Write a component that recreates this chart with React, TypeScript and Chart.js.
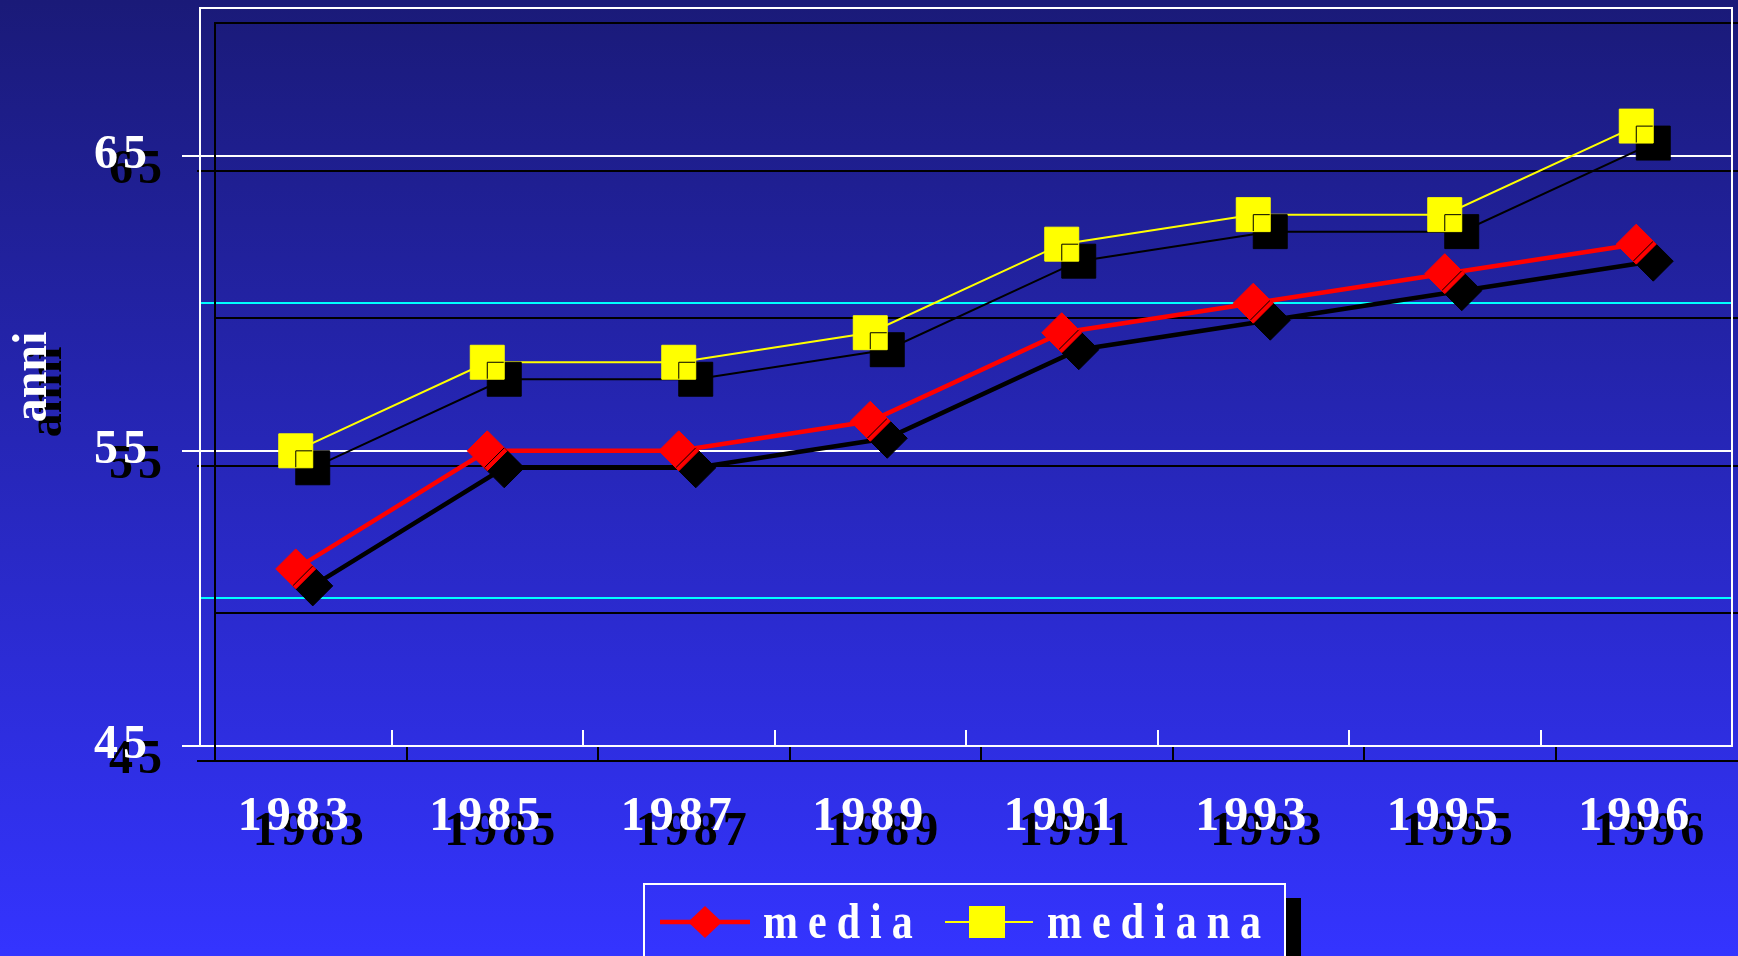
import React, { useEffect, useRef } from 'react';
import { Chart, registerables } from 'chart.js';

Chart.register(...registerables);

// ---- data ----
const years = ['1983', '1985', '1987', '1989', '1991', '1993', '1995', '1996'];
const media = [51, 55, 55, 56, 59, 60, 61, 62];
const mediana = [55, 58, 58, 59, 62, 63, 63, 66];
const yTickLabels = [45, 55, 65];
const yMin = 45;
const yMax = 70;
const yTitle = 'anni';
const legendLabels = ['media', 'mediana'];

// ---- style ----
const W = 1738;
const H = 956;
const SHADOW = 15;
const SERIF = '"Liberation Serif", "Times New Roman", serif';
const RED = '#ff0000';
const YELLOW = '#ffff00';
const CYAN = '#00ffff';
const WHITE = '#ffffff';
const TRANSPARENT = 'rgba(0,0,0,0)';

function makeGradient(ctx: CanvasRenderingContext2D, h: number) {
  const g = ctx.createLinearGradient(0, 0, 0, h);
  g.addColorStop(0, '#1a1a78');
  g.addColorStop(1, '#3434ff');
  return g;
}

const decoPlugin = {
  id: 'decoPlugin',
  beforeDraw(chart: any) {
    const ctx: any = chart.ctx;
    ctx.save();
    ctx.fillStyle = makeGradient(ctx, chart.height);
    ctx.fillRect(0, 0, chart.width, chart.height);
    ctx.shadowColor = '#000000';
    ctx.shadowBlur = 0;
    ctx.shadowOffsetX = SHADOW;
    ctx.shadowOffsetY = SHADOW;
    ctx.letterSpacing = '5px';
    const ys: any = chart.scales.y;
    if (ys && !ys._patchedTitle) {
      const orig = ys.drawTitle.bind(ys);
      ys.drawTitle = () => {
        const c: any = chart.ctx;
        const prev = c.letterSpacing;
        c.letterSpacing = '0px';
        orig();
        c.letterSpacing = prev;
      };
      ys._patchedTitle = true;
    }
  },
  beforeDatasetsDraw(chart: any) {
    chart.ctx.shadowOffsetX = 17;
    chart.ctx.shadowOffsetY = 17;
  },
  afterDatasetsDraw(chart: any) {
    chart.ctx.shadowOffsetX = SHADOW;
    chart.ctx.shadowOffsetY = SHADOW;
  },
  afterDraw(chart: any) {
    const ctx: any = chart.ctx;
    ctx.restore();
    // legend
    const bx = 643;
    const by = 883;
    const bw = 643;
    const bh = 140;
    ctx.save();
    ctx.fillStyle = '#000000';
    ctx.fillRect(bx + SHADOW, by + SHADOW, bw, bh);
    ctx.fillStyle = makeGradient(ctx, chart.height);
    ctx.fillRect(bx, by, bw, bh);
    ctx.strokeStyle = WHITE;
    ctx.lineWidth = 2;
    ctx.strokeRect(bx + 1, by + 1, bw - 2, bh);

    const ds = chart.data.datasets;
    const cy = 922;
    // media sample
    ctx.strokeStyle = ds[0].borderColor;
    ctx.lineWidth = 4.5;
    ctx.beginPath();
    ctx.moveTo(660, cy);
    ctx.lineTo(750, cy);
    ctx.stroke();
    ctx.fillStyle = ds[0].backgroundColor;
    ctx.beginPath();
    ctx.moveTo(705, cy - 16);
    ctx.lineTo(722, cy);
    ctx.lineTo(705, cy + 16);
    ctx.lineTo(688, cy);
    ctx.closePath();
    ctx.fill();
    // mediana sample
    ctx.strokeStyle = ds[1].borderColor;
    ctx.lineWidth = 2;
    ctx.beginPath();
    ctx.moveTo(945, cy);
    ctx.lineTo(1033, cy);
    ctx.stroke();
    ctx.fillStyle = ds[1].backgroundColor;
    ctx.fillRect(969, 906, 36, 32);

    ctx.fillStyle = WHITE;
    ctx.letterSpacing = '10px';
    ctx.font = `bold 42px ${SERIF}`;
    ctx.textBaseline = 'alphabetic';
    ctx.textAlign = 'left';
    const texts = [
      { t: legendLabels[0], x: 763 },
      { t: legendLabels[1], x: 1047 },
    ];
    for (const it of texts) {
      ctx.save();
      ctx.translate(it.x, 938);
      ctx.scale(1, 1.2);
      ctx.fillText(it.t, 0, 0);
      ctx.restore();
    }
    ctx.restore();
  },
};

export default function App() {
  const ref = useRef<HTMLCanvasElement>(null);

  useEffect(() => {
    const canvas = ref.current;
    if (!canvas) return;
    const tickFont = { family: SERIF, size: 48, weight: 'bold' as const };
    const chart = new Chart(canvas, {
      type: 'line',
      data: {
        labels: years,
        datasets: [
          {
            label: legendLabels[0],
            data: media,
            borderColor: RED,
            backgroundColor: RED,
            borderWidth: 4.5,
            pointStyle: 'rectRot',
            pointRadius: 20,
            pointBackgroundColor: RED,
            pointBorderColor: RED,
            pointBorderWidth: 1,
            tension: 0,
            clip: false as any,
          },
          {
            label: legendLabels[1],
            data: mediana,
            borderColor: YELLOW,
            backgroundColor: YELLOW,
            borderWidth: 2,
            pointStyle: 'rect',
            pointRadius: 24,
            pointBackgroundColor: YELLOW,
            pointBorderColor: YELLOW,
            pointBorderWidth: 1,
            tension: 0,
            clip: false as any,
          },
        ],
      },
      options: {
        responsive: false,
        animation: false,
        devicePixelRatio: 1,
        events: [],
        layout: { autoPadding: false, padding: { top: 8, left: 0, right: 0, bottom: 0 } },
        plugins: {
          legend: { display: false },
          tooltip: { enabled: false },
        },
        scales: {
          x: {
            type: 'category',
            offset: true,
            grid: {
              offset: true,
              drawOnChartArea: false,
              color: WHITE,
              lineWidth: 2,
              tickLength: -16,
              tickWidth: 2,
            },
            border: { color: WHITE, width: 2 },
            ticks: {
              color: WHITE,
              font: tickFont,
              padding: 59,
              maxRotation: 0,
              autoSkip: false,
            },
            afterFit: (s: any) => {
              s.height = 210;
              s.paddingLeft = 0;
              s.paddingRight = 0;
            },
          },
          y: {
            min: yMin,
            max: yMax,
            ticks: {
              stepSize: 5,
              color: WHITE,
              font: tickFont,
              padding: 30,
              callback: (v: any) => (yTickLabels.includes(Number(v)) ? String(v) : ''),
            },
            grid: {
              color: (c: any) => {
                const v = c.tick ? c.tick.value : 0;
                if (v === yMax) return WHITE;
                return v % 10 === 5 ? WHITE : CYAN;
              },
              lineWidth: 2,
              tickLength: 18,
              tickColor: (c: any) =>
                c.tick && yTickLabels.includes(c.tick.value) ? WHITE : TRANSPARENT,
            },
            border: { color: WHITE, width: 2 },
            title: {
              display: true,
              text: yTitle,
              color: WHITE,
              font: { family: SERIF, size: 48, weight: 'bold' },
              padding: { top: 5, bottom: 0 },
            },
            afterFit: (s: any) => {
              s.width = 200;
              s.paddingTop = 0;
              s.paddingBottom = 0;
            },
          },
          y2: {
            type: 'linear',
            position: 'right',
            min: yMin,
            max: yMax,
            ticks: { display: false },
            grid: { display: false },
            border: { color: WHITE, width: 2 },
            afterFit: (s: any) => {
              s.width = 6;
              s.paddingTop = 0;
              s.paddingBottom = 0;
            },
          },
        },
      } as any,
      plugins: [decoPlugin],
    });
    return () => chart.destroy();
  }, []);

  return (
    <div style={{ position: 'fixed', left: 0, top: 0, width: W, height: H, overflow: 'hidden' }}>
      <canvas ref={ref} width={W} height={H} style={{ display: 'block', width: W, height: H }} />
    </div>
  );
}
